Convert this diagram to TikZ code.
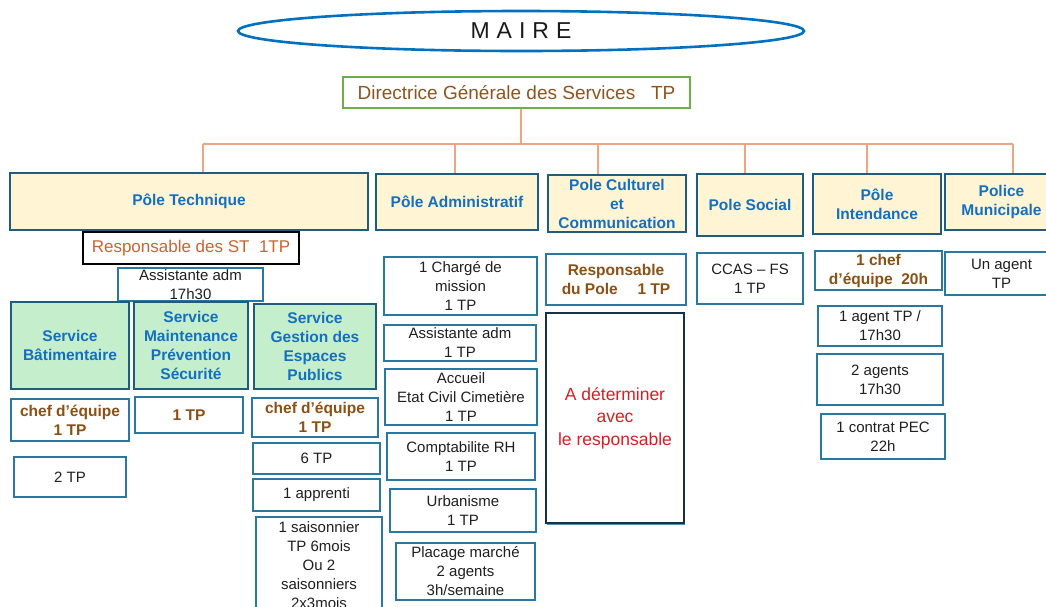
\documentclass[tikz,border=0pt]{standalone}
\usepackage{fontspec}
\setmainfont{Liberation Sans}
\usetikzlibrary{shadows,shapes.geometric}
\definecolor{ellblue}{RGB}{0,112,192}
\definecolor{dgsgreen}{RGB}{106,176,70}
\definecolor{dgsbrown}{RGB}{140,84,32}
\definecolor{brownT}{RGB}{138,80,20}
\definecolor{orangeT}{RGB}{200,100,50}
\definecolor{redT}{RGB}{212,32,36}
\definecolor{blueT}{RGB}{20,112,190}
\definecolor{poleborder}{RGB}{32,92,125}
\definecolor{itemborder}{RGB}{40,120,160}
\definecolor{poleyellow}{RGB}{255,244,212}
\definecolor{svcgreen}{RGB}{196,238,204}
\definecolor{linkc}{RGB}{240,165,130}
\definecolor{darkbox}{RGB}{25,50,65}
\newcommand\fs[2]{\fontsize{#1}{#2}\selectfont}
\newcommand\bx[7]{\node[#6, minimum width={(#4-#2)*1pt}, minimum height={(#5-#3)*1pt}] (#1) at ({(#2+#4)/2},{(#3+#5)/2}) {#7};}
\tikzset{
  pole/.style={draw=poleborder, fill=poleyellow, line width=2pt, inner sep=0pt, align=center, text=blueT, font=\bfseries\fs{15.5}{19}},
  svc/.style={pole, fill=svcgreen},
  item/.style={draw=itemborder, fill=white, line width=1.8pt, inner sep=0pt, align=center, text=black!88, font=\fs{15}{19}},
  bitem/.style={item, text=brownT, font=\bfseries\fs{15.5}{19}},
  link/.style={draw=linkc, line width=1.2pt},
}
\begin{document}
\begin{tikzpicture}[x=1pt,y=-1pt]
\useasboundingbox (0,0) rectangle (1046,606);
\clip (0,0) rectangle (1046,606);
% Maire
\node[draw=ellblue, line width=2.6pt, ellipse, minimum width=566pt, minimum height=40pt, inner sep=0pt, text=black!90, font=\fs{23}{26}] (maire) at (521,31) {M\kern7pt A\kern7pt I\kern7pt R\kern7pt E};
% DGS
\bx{dgs}{343}{77}{690}{108}{draw=dgsgreen, line width=1.8pt, inner sep=0pt, text=dgsbrown, font=\fs{19}{22}}{Directrice Générale des Services\ \ \ TP}
% poles
\bx{pt}{10}{173}{368}{230}{pole}{Pôle Technique}
\bx{pa}{376}{174}{538}{230}{pole}{Pôle Administratif}
\bx{pc}{548}{175}{686}{232}{pole}{Pole Culturel\\et\\Communication}
\bx{ps}{697}{174}{803}{236}{pole}{Pole Social}
\bx{pi}{813}{174}{941}{234}{pole}{Pôle\\Intendance}
\bx{pm}{945}{174}{1058}{230}{pole}{Police\\Municipale}
% connectors
\coordinate (j) at (521,144);
\coordinate (b1) at (203,144);
\coordinate (b2) at (455,144);
\coordinate (b3) at (598,144);
\coordinate (b4) at (745,144);
\coordinate (b5) at (867,144);
\coordinate (b6) at (1013,144);
\draw[link] (j |- dgs.south) -- (j);
\draw[link] (b1) -- (b6);
\draw[link] (b1) -- (b1 |- pt.north);
\draw[link] (b2) -- (b2 |- pa.north);
\draw[link] (b3) -- (b3 |- pc.north);
\draw[link] (b4) -- (b4 |- ps.north);
\draw[link] (b5) -- (b5 |- pi.north);
\draw[link] (b6) -- (b6 |- pm.north);
% technique
\bx{resp}{83}{232}{299}{264}{item, draw=black, text=orangeT, font=\fs{17}{20}}{Responsable des ST\ \ 1TP}
\bx{asst}{118}{268}{263}{301}{item}{Assistante adm\\17h30}
\bx{sb}{11}{302}{129}{389}{svc}{Service\\Bâtimentaire}
\bx{sm}{134}{302}{248}{389}{svc}{Service\\Maintenance\\Prévention\\Sécurité}
\bx{sg}{254}{304}{376}{389}{svc}{Service\\Gestion des\\Espaces\\Publics}
\bx{c1}{11}{399}{129}{441}{bitem}{chef d’équipe\\1 TP}
\bx{t1}{135}{397}{243}{433}{bitem}{1 TP}
\bx{c3}{252}{398}{378}{437}{bitem}{chef d’équipe\\1 TP}
\bx{tp2}{14}{457}{126}{497}{item}{2 TP}
\bx{tp6}{253}{443}{380}{474}{item}{6 TP}
\bx{appr}{253}{479}{380}{511}{item}{1 apprenti}
\bx{sais}{256}{517}{382}{614}{item}{1 saisonnier\\TP 6mois\\Ou 2\\saisonniers\\2x3mois}
% administratif
\bx{a1}{384}{257}{537}{315}{item}{1 Chargé de\\mission\\1 TP}
\bx{a2}{384}{325}{536}{361}{item}{Assistante adm\\1 TP}
\bx{a3}{385}{369}{537}{425}{item}{Accueil\\Etat Civil Cimetière\\1 TP}
\bx{a4}{387}{433}{535}{480}{item}{Comptabilite RH\\1 TP}
\bx{a5}{390}{489}{536}{532}{item}{Urbanisme\\1 TP}
\bx{a6}{396}{543}{535}{600}{item}{Placage marché\\2 agents\\3h/semaine}
% culturel
\bx{r1}{546}{254}{686}{305}{bitem}{Responsable\\du Pole\quad\ 1 TP}
\bx{det}{546}{313}{684}{523}{item, draw=darkbox, text=redT, font=\fs{17.5}{22.5}, drop shadow={shadow xshift=1pt, shadow yshift=-2pt, fill=itemborder, opacity=0.8}}{A déterminer\\avec\\le responsable}
% social
\bx{cc}{697}{253}{803}{304}{item}{CCAS – FS\\1 TP}
% intendance
\bx{i1}{815}{251}{942}{290}{bitem}{1 chef\\d’équipe\ \ 20h}
\bx{i2}{818}{306}{942}{346}{item}{1 agent TP /\\17h30}
\bx{i3}{817}{354}{943}{405}{item}{2 agents\\17h30}
\bx{i4}{821}{414}{945}{459}{item}{1 contrat PEC\\22h}
% police
\bx{pol}{945}{252}{1058}{295}{item}{Un agent\\TP}
\end{tikzpicture}
\end{document}
